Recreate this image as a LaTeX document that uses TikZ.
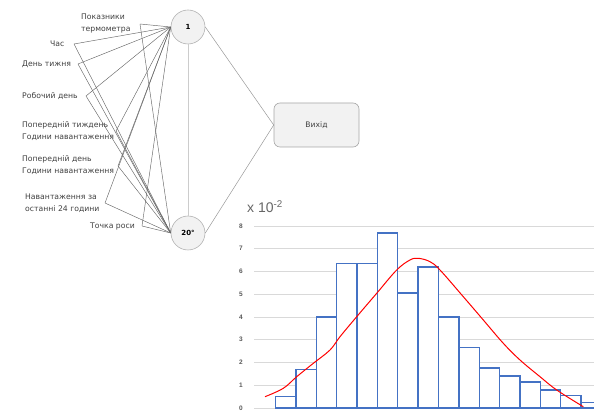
\documentclass[tikz,border=0pt]{standalone}
\usepackage{fontspec}
\setmainfont{Liberation Sans}
\newfontfamily\lblfont{DejaVu Sans}
\definecolor{barblue}{HTML}{4472C4}
\begin{document}
\begin{tikzpicture}[x=1pt,y=-1pt,
  lbl/.style={font=\lblfont\fontsize{7.7}{12}\selectfont, text=black!75, align=left, inner sep=0pt},
  neuron/.style={circle, draw=black!30, fill=black!5, line width=0.6pt, minimum size=34pt, inner sep=0pt, font=\lblfont\bfseries\fontsize{7}{8}\selectfont},
  outbox/.style={draw=black!35, fill=black!5, rounded corners=6pt, line width=0.6pt, minimum width=85pt, minimum height=44pt, inner sep=0pt, font=\lblfont\fontsize{7.6}{8}\selectfont, text=black!75},
  conn/.style={draw=black!60, line width=0.45pt},
  outconn/.style={draw=black!40, line width=0.5pt},
  gridl/.style={draw=black!15, line width=0.6pt},
  ylab/.style={font=\bfseries\fontsize{6.5}{7}\selectfont, text=black!65, inner sep=0pt},
  bar/.style={draw=barblue, line width=1.4pt, fill=white},
  fitc/.style={draw=red, line width=1pt}
]
\useasboundingbox (0,0) rectangle (594,411);

% network nodes
\node[neuron] (n1) at (188,27) {1};
\node[neuron] (n20) at (188,233) {20°};
\node[outbox] (out) at (316.5,125) {Вихід};

% input labels
\node[lbl,anchor=west] (i1) at (81,23) {Показники\\термометра};
\node[lbl,anchor=west] (i2) at (50,44) {Час};
\node[lbl,anchor=west] (i3) at (22,64) {День тижня};
\node[lbl,anchor=west] (i4) at (22,96) {Робочий день};
\node[lbl,anchor=west] (i5) at (22,131) {Попередній тиждень\\Години навантаження};
\node[lbl,anchor=west] (i6) at (22,165) {Попередній день\\Години навантаження};
\node[lbl,anchor=west] (i7) at (25,203.5) {Навантаження за\\останні 24 години};
\node[lbl,anchor=west] (i8) at (90,226) {Точка роси};

\coordinate (a1) at (140,24);
\coordinate (a2) at (74,44);
\coordinate (a3) at (78,64);
\coordinate (a4) at (86,96);
\coordinate (a5) at (116,131);
\coordinate (a6) at (118,166);
\coordinate (a7) at (105,203);
\coordinate (a8) at (142,226);

\foreach \k in {1,...,8}{
  \draw[conn] (a\k) -- (n1.west);
  \draw[conn] (a\k) -- (n20.west);
}
\draw[outconn] (n1.east) -- (out.west);
\draw[outconn] (n20.east) -- (out.west);
\draw[draw=black!20, line width=0.5pt] (n1) -- (n20);

% chart
\foreach \v in {0,...,8}{
  \draw[gridl] (254,{408-22.75*\v}) -- (594,{408-22.75*\v});
  \node[ylab] (y\v) at (241,{408-22.75*\v}) {\v};
}
\node[anchor=west, inner sep=0pt, text=black!60, font=\fontsize{14}{16}\selectfont] (unit) at (247,207) {x 10\textsuperscript{-2}};

\foreach \h [count=\i] in {0.5,1.7,4.0,6.35,6.35,7.7,5.05,6.2,4.0,2.65,1.75,1.4,1.15,0.8,0.55,0.25}{
  \pgfmathsetmacro{\xa}{275.5+20.37*(\i-1)}
  \pgfmathsetmacro{\xb}{275.5+20.37*\i}
  \draw[bar] (\xa,408) rectangle (\xb,{408-22.75*\h});
}

\draw[fitc] plot[smooth, tension=0.6] coordinates {
 (265,396.7) (283.3,388.3) (296.7,376.7) (313.3,363.3) (330,350) (340,336.7)
 (356.7,316.7) (376.7,293.3) (396.7,270) (410,260) (418.3,258.3) (430,261.7)
 (440,270) (463.3,296.7) (483.3,320) (503.3,343.3) (520,360) (540,376.7)
 (556.7,390) (583.3,406.7)};
\end{tikzpicture}
\end{document}
